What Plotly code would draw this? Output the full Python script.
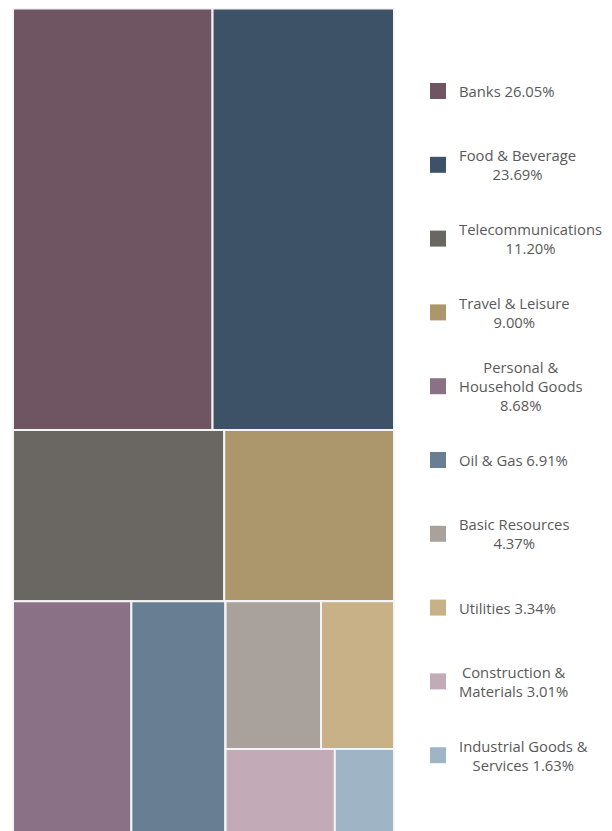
import plotly.graph_objects as go

# ---- data ----
sectors = ["Banks", "Food & Beverage", "Telecommunications", "Travel & Leisure",
           "Personal & Household Goods", "Oil & Gas", "Basic Resources", "Utilities",
           "Construction & Materials", "Industrial Goods & Services"]
shares = [26.05, 23.69, 11.20, 9.00, 8.68, 6.91, 4.37, 3.34, 3.01, 1.63]
colors = ["#6f5461", "#3e5267", "#6a6661", "#ac966b", "#8b7186",
          "#687e93", "#a9a29c", "#c8b087", "#c3aab7", "#9fb5c5"]
legend_labels = ["Banks 26.05%", "Food & Beverage<br>23.69%", "Telecommunications<br>11.20%",
                 "Travel & Leisure<br>9.00%", "Personal &<br>Household Goods<br>8.68%",
                 "Oil & Gas 6.91%", "Basic Resources<br>4.37%", "Utilities 3.34%",
                 "Construction &<br>Materials 3.01%", "Industrial Goods &<br>Services 1.63%"]

# tiling structure (containers group the tiles into rows / blocks)
tree = [("root", ""), ("row1", "root"), (0, "row1"), (1, "row1"),
        ("row2", "root"), (2, "row2"), (3, "row2"),
        ("row3", "root"), (4, "row3"), (5, "row3"), ("grp", "row3"),
        ("sub1", "grp"), (6, "sub1"), (7, "sub1"),
        ("sub2", "grp"), (8, "sub2"), (9, "sub2")]

ids, labels, parents, values, cols = [], [], [], [], []
for node, par in tree:
    if isinstance(node, int):
        ids.append(sectors[node]); labels.append(sectors[node])
        values.append(shares[node]); cols.append(colors[node])
    else:
        ids.append(node); labels.append("")
        values.append(0); cols.append("#ffffff")
    parents.append(par)

W, H = 612, 840

fig = go.Figure(go.Treemap(
    ids=ids, labels=labels, parents=parents, values=values,
    branchvalues="remainder", sort=False,
    marker=dict(colors=cols, line=dict(color="#f4f4f4", width=2),
                pad=dict(t=0, l=0, r=0, b=0)),
    textinfo="none", hoverinfo="label+value",
    tiling=dict(packing="dice-slice", pad=0),
    pathbar=dict(visible=False),
    domain=dict(x=[5 / W, 386 / W], y=[(H - 830) / H, (H - 0.5) / H]),
))

# legend drawn at the right
y0, dy = 83, 73.8
shapes, annots = [], []
for i, (lab, c) in enumerate(zip(legend_labels, colors)):
    yc = y0 + i * dy
    shapes.append(dict(type="rect", xref="paper", yref="paper",
                       x0=422 / W, x1=438 / W, y0=1 - (yc - 8) / H, y1=1 - (yc + 8) / H,
                       fillcolor=c, line=dict(width=0)))
    annots.append(dict(x=449 / W, y=1 - yc / H, xref="paper", yref="paper",
                       text=lab, showarrow=False, xanchor="left", yanchor="middle",
                       align="center", font=dict(family="Open Sans", size=14.8, color="#595959")))

fig.update_layout(width=W, height=H, margin=dict(l=0, r=0, t=0, b=0),
                  paper_bgcolor="white", plot_bgcolor="white",
                  shapes=shapes, annotations=annots)

fig.write_html("out.html")
